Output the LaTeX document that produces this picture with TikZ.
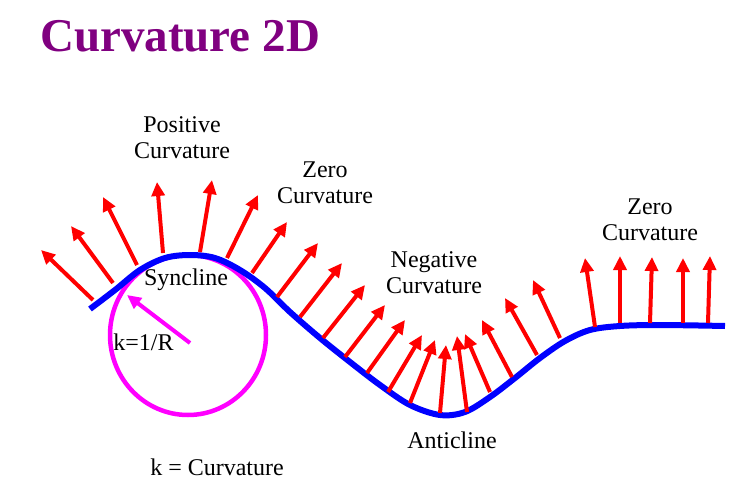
\documentclass[tikz,border=0pt]{standalone}
\usepackage{fontspec}
\setmainfont{Liberation Serif}
\usetikzlibrary{arrows.meta}
\definecolor{titlepurple}{RGB}{128,0,128}
\definecolor{vecred}{RGB}{255,0,0}
\definecolor{foldblue}{RGB}{0,0,255}
\definecolor{circmag}{RGB}{255,0,255}
\tikzset{
  vec/.style={draw=vecred, line width=4pt, -{Triangle[length=14pt,width=13pt]}},
  radvec/.style={draw=circmag, line width=4pt, -{Triangle[length=14pt,width=13pt]}},
  fold/.style={draw=foldblue, line width=6pt},
  osc/.style={draw=circmag, line width=4.5pt},
  lbl/.style={font=\fontsize{24}{26}\selectfont, inner sep=0pt, align=center},
  ttl/.style={font=\fontsize{47}{50}\selectfont\bfseries, text=titlepurple, inner sep=0pt}
}
\begin{document}
\begin{tikzpicture}[x=1pt,y=-1pt]
\useasboundingbox (0,0) rectangle (752,500);
% title
\node[ttl, anchor=base west] (title) at (40,52) {Curvature 2D};
% osculating circle
\draw[osc] (188,335) ellipse [x radius=78, y radius=80];
\coordinate (cc) at (190,343);
\coordinate (ct) at (127,295);
\draw[radvec] (cc) -- (ct);
% fold curve
\draw[fold] plot[smooth, tension=0.55] coordinates {
 (90,309) (115,290) (140,270) (165,258) (190,255) (215,258) (240,270)
 (265,288) (290,312) (320,338) (350,362) (380,385) (410,405) (440,415)
 (465,412) (490,397) (515,378) (540,358) (565,341) (590,330) (620,326)
 (660,325) (725,326)};
% normal vectors
\foreach \tx/\ty/\hx/\hy in {
 93/300/41/250, 113/283/71/226, 137/265/103/197, 163/253/157/182,
 200/252/212/180, 227/258/258/195, 252/273/287/222,
 277/297/318/243, 300/317/342/263, 323/338/365/285, 345/357/385/305,
 367/373/405/320, 388/392/422/335, 410/403/435/340, 440/413/446/345,
 467/412/457/336, 490/392/465/334, 512/377/482/320, 537/355/505/298,
 560/338/533/280,
 595/327/585/258, 620/323/620/256, 650/323/652/257, 683/323/683/258,
 708/323/710/256}{
 \draw[vec] (\tx,\ty) -- (\hx,\hy);
}
% labels (base = baseline of the last line)
\node[lbl, anchor=base] (pos) at (182,158) {Positive\\Curvature};
\node[lbl, anchor=base] (zeroA) at (325,203) {Zero\\Curvature};
\node[lbl, anchor=base] (neg) at (434,293) {Negative\\Curvature};
\node[lbl, anchor=base] (zeroB) at (650,240) {Zero\\Curvature};
\node[lbl, anchor=base] (syn) at (186,285) {Syncline};
\node[lbl, anchor=base] (krad) at (143.5,350) {k=1/R};
\node[lbl, anchor=base] (anti) at (452,448) {Anticline};
\node[lbl, anchor=base] (kdef) at (217,475) {k = Curvature};
\end{tikzpicture}
\end{document}
